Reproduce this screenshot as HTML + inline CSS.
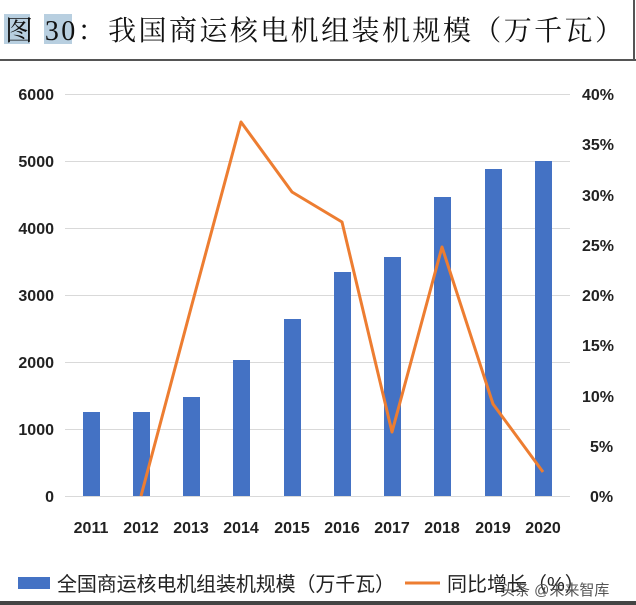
<!DOCTYPE html>
<html><head><meta charset="utf-8"><style>
html,body{margin:0;padding:0;background:#fff;}
body{width:636px;height:605px;overflow:hidden;position:relative;font-family:"Liberation Sans","Noto Sans CJK SC",sans-serif;}
</style></head><body>
<svg width="636" height="605" xmlns="http://www.w3.org/2000/svg" style="position:absolute;left:0;top:0">
<rect x="4" y="14" width="26" height="30" fill="#b8cfe0"/>
<rect x="44" y="14" width="28" height="30" fill="#b8cfe0"/>
<text x="5" y="40" font-family="Liberation Serif,'Noto Serif CJK SC',serif" font-size="28" textLength="618" lengthAdjust="spacing" fill="#111">图 30：我国商运核电机组装机规模（万千瓦）</text>
<line x1="0" y1="60" x2="636" y2="60" stroke="#555" stroke-width="2"/>
<line x1="634" y1="0" x2="634" y2="60" stroke="#555" stroke-width="2"/>
<rect x="0" y="601" width="636" height="4" fill="#444"/>
<g stroke="#d9d9d9" stroke-width="1">
<line x1="65" y1="94.5" x2="570" y2="94.5"/><line x1="65" y1="161.5" x2="570" y2="161.5"/>
<line x1="65" y1="228.5" x2="570" y2="228.5"/><line x1="65" y1="295.5" x2="570" y2="295.5"/>
<line x1="65" y1="362.5" x2="570" y2="362.5"/><line x1="65" y1="429.5" x2="570" y2="429.5"/>
<line x1="65" y1="496.5" x2="570" y2="496.5"/>
</g>
<g font-size="16" font-weight="bold" fill="#222" text-anchor="end">
<text x="54" y="100">6000</text><text x="54" y="167">5000</text><text x="54" y="234">4000</text>
<text x="54" y="301">3000</text><text x="54" y="368">2000</text><text x="54" y="435">1000</text><text x="54" y="502">0</text>
</g>
<g font-size="16" font-weight="bold" fill="#222">
<text x="582" y="100">40%</text><text x="582" y="150">35%</text><text x="582" y="201">30%</text>
<text x="582" y="251">25%</text><text x="582" y="301">20%</text><text x="582" y="351">15%</text>
<text x="582" y="402">10%</text><text x="590" y="452">5%</text><text x="590" y="502">0%</text>
</g>
<g fill="#4472c4">
<rect x="83" y="412" width="17" height="84"/><rect x="133" y="412" width="17" height="84"/>
<rect x="183" y="397" width="17" height="99"/><rect x="233" y="360" width="17" height="136"/>
<rect x="284" y="319" width="17" height="177"/><rect x="334" y="272" width="17" height="224"/>
<rect x="384" y="257" width="17" height="239"/><rect x="434" y="197" width="17" height="299"/>
<rect x="485" y="169" width="17" height="327"/><rect x="535" y="161" width="17" height="335"/>
</g>
<polyline fill="none" stroke="#ed7d31" stroke-width="3" stroke-linejoin="round" points="141,496 191,308 241,122 292,192 342,222 392,432 442,247 493,404 543,472"/>
<g font-size="16" font-weight="bold" fill="#222" text-anchor="middle">
<text x="91" y="533">2011</text><text x="141" y="533">2012</text><text x="191" y="533">2013</text>
<text x="241" y="533">2014</text><text x="292" y="533">2015</text><text x="342" y="533">2016</text>
<text x="392" y="533">2017</text><text x="442" y="533">2018</text><text x="493" y="533">2019</text><text x="543" y="533">2020</text>
</g>
<rect x="18" y="577" width="32" height="12" fill="#4472c4"/>
<text x="57" y="591" font-size="20" textLength="338" lengthAdjust="spacing" fill="#222">全国商运核电机组装机规模（万千瓦）</text>
<line x1="405" y1="583" x2="440" y2="583" stroke="#ed7d31" stroke-width="3"/>
<text x="447" y="591" font-size="20" fill="#222">同比增长（%）</text>
<text x="500" y="595" font-size="15" fill="#555">头条 @未来智库</text>
</svg>
</body></html>
